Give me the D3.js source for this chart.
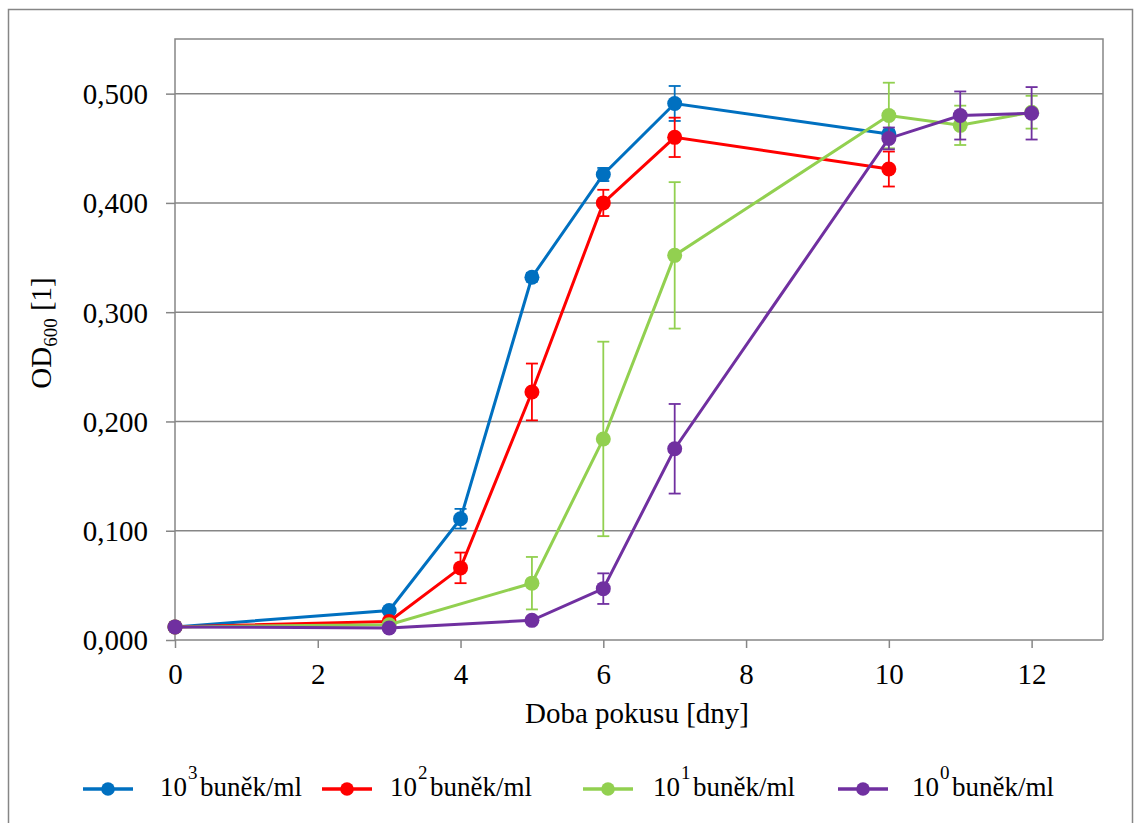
<!DOCTYPE html>
<html><head><meta charset="utf-8">
<script src="https://cdn.jsdelivr.net/npm/d3@7"></script>
<style>body{margin:0;background:#fff}svg{display:block}svg text{font-family:'Liberation Serif','Times New Roman',serif;fill:#000}</style>
</head><body><svg id="c" width="1135" height="823"></svg>
<script>
const seriesNames = ["3","2","1","0"];
const seriesColors = ["#0070C0","#FF0000","#92D050","#7030A0"];
const daysBlue = [0,3,4,5,6,7,10];
const valBlue  = [0.012,0.027,0.111,0.332,0.426,0.491,0.463];
const errBlue  = [0.001,0.002,0.009,0.004,0.006,0.016,0.004];
const daysRed = [0,3,4,5,6,7,10];
const valRed  = [0.012,0.017,0.066,0.227,0.400,0.460,0.431];
const errRed  = [0.001,0.002,0.014,0.026,0.012,0.018,0.016];
const daysGreen = [0,3,5,6,7,10,11,12];
const valGreen  = [0.012,0.014,0.052,0.184,0.352,0.480,0.471,0.483];
const errGreen  = [0.001,0.002,0.024,0.089,0.067,0.030,0.018,0.015];
const daysPurple = [0,3,5,6,7,10,11,12];
const valPurple  = [0.012,0.011,0.018,0.047,0.175,0.459,0.480,0.482];
const errPurple  = [0.001,0.001,0.002,0.014,0.041,0.010,0.022,0.024];
const yTicks = [0,0.1,0.2,0.3,0.4,0.5];
const xTicks = [0,2,4,6,8,10,12];

const series = [
  {days:daysBlue,val:valBlue,err:errBlue},
  {days:daysRed,val:valRed,err:errRed},
  {days:daysGreen,val:valGreen,err:errGreen},
  {days:daysPurple,val:valPurple,err:errPurple}
];

const FONT = "'Liberation Serif','Times New Roman',serif";
const FS = 29, FSS = 19, FL = 27;
const svg = d3.select("#c");
const L=175,R=1103,T=39,B=640;
const x = d3.scaleLinear().domain([0,13]).range([L,R]);
const y = d3.scaleLinear().domain([0,0.55]).range([B,T]);
const grid="#868686";

svg.append("rect").attr("x",8.5).attr("y",9.5).attr("width",1124).attr("height",830)
  .attr("fill","none").attr("stroke",grid).attr("stroke-width",1.5);

svg.append("g").selectAll("line").data(yTicks.slice(1)).join("line")
  .attr("x1",L).attr("x2",R).attr("y1",d=>y(d)).attr("y2",d=>y(d))
  .attr("stroke",grid).attr("stroke-width",1.5);
svg.append("path").attr("d",`M${L},${B}V${T}H${R}V${B}`).attr("fill","none").attr("stroke",grid).attr("stroke-width",1.5);

const fmt = d=>d3.format(".3f")(d).replace(".",",");
const yAxis = d3.axisLeft(y).tickValues(yTicks).tickFormat(fmt).tickSize(9).tickPadding(18);
const gy = svg.append("g").attr("transform",`translate(${L},0)`).call(yAxis);
gy.attr("font-family",null).attr("font-size",null);
gy.select(".domain").remove();
gy.selectAll("line").attr("stroke",grid).attr("stroke-width",1.5);
gy.selectAll("text").style("font-family",FONT).attr("font-size",FS).attr("dy","0.34em");

const xAxis = d3.axisBottom(x).tickValues(xTicks).tickFormat(d3.format("d")).tickSize(8).tickPadding(15);
const gx = svg.append("g").attr("transform",`translate(0,${B})`).call(xAxis);
gx.attr("font-family",null).attr("font-size",null);
gx.select(".domain").attr("stroke",grid).attr("stroke-width",1.5).attr("d",`M${L},0H${R}`);
gx.selectAll("line").attr("stroke",grid).attr("stroke-width",1.5);
gx.selectAll("text").style("font-family",FONT).attr("font-size",FS);

svg.append("text").style("font-family",FONT).attr("x",637).attr("y",723).attr("text-anchor","middle").attr("font-size",FS).text("Doba pokusu [dny]");
const yt = svg.append("text").style("font-family",FONT).attr("transform","translate(51,333) rotate(-90)").attr("text-anchor","middle").attr("font-size",FS);
yt.append("tspan").text("OD");
yt.append("tspan").attr("font-size",FSS).attr("dy",6).text("600");
yt.append("tspan").attr("dy",-6).text(" [1]");

const line = d3.line().x(d=>x(d[0])).y(d=>y(d[1]));
series.forEach((s,i)=>{
  const c = seriesColors[i];
  const pts = s.days.map((d,j)=>[d,s.val[j],s.err[j]]);
  const g = svg.append("g");
  g.append("path").datum(pts).attr("d",line).attr("fill","none").attr("stroke",c).attr("stroke-width",3);
  const eb = g.selectAll("g.eb").data(pts).join("g");
  eb.append("line").attr("x1",d=>x(d[0])).attr("x2",d=>x(d[0])).attr("y1",d=>y(d[1]-d[2])).attr("y2",d=>y(d[1]+d[2])).attr("stroke",c).attr("stroke-width",1.8);
  eb.append("line").attr("x1",d=>x(d[0])-6).attr("x2",d=>x(d[0])+6).attr("y1",d=>y(d[1]+d[2])).attr("y2",d=>y(d[1]+d[2])).attr("stroke",c).attr("stroke-width",1.8);
  eb.append("line").attr("x1",d=>x(d[0])-6).attr("x2",d=>x(d[0])+6).attr("y1",d=>y(d[1]-d[2])).attr("y2",d=>y(d[1]-d[2])).attr("stroke",c).attr("stroke-width",1.8);
  g.selectAll("circle").data(pts).join("circle").attr("cx",d=>x(d[0])).attr("cy",d=>y(d[1])).attr("r",7.5).attr("fill",c);
});

const legX = [83,322,583,838];
const legText = [160,390,653,912];
seriesNames.forEach((n,i)=>{
  const c=seriesColors[i], lx=legX[i], ly=789, tx=legText[i];
  svg.append("line").attr("x1",lx).attr("x2",lx+50).attr("y1",ly).attr("y2",ly).attr("stroke",c).attr("stroke-width",3.5);
  svg.append("circle").attr("cx",lx+25).attr("cy",ly).attr("r",6.8).attr("fill",c);
  svg.append("text").style("font-family",FONT).attr("x",tx).attr("y",796).attr("font-size",FL).text("10");
  svg.append("text").style("font-family",FONT).attr("x",tx+28).attr("y",779).attr("font-size",FSS).text(n);
  svg.append("text").style("font-family",FONT).attr("x",tx+40).attr("y",796).attr("font-size",FL).text("buněk/ml");
});
</script></body></html>
